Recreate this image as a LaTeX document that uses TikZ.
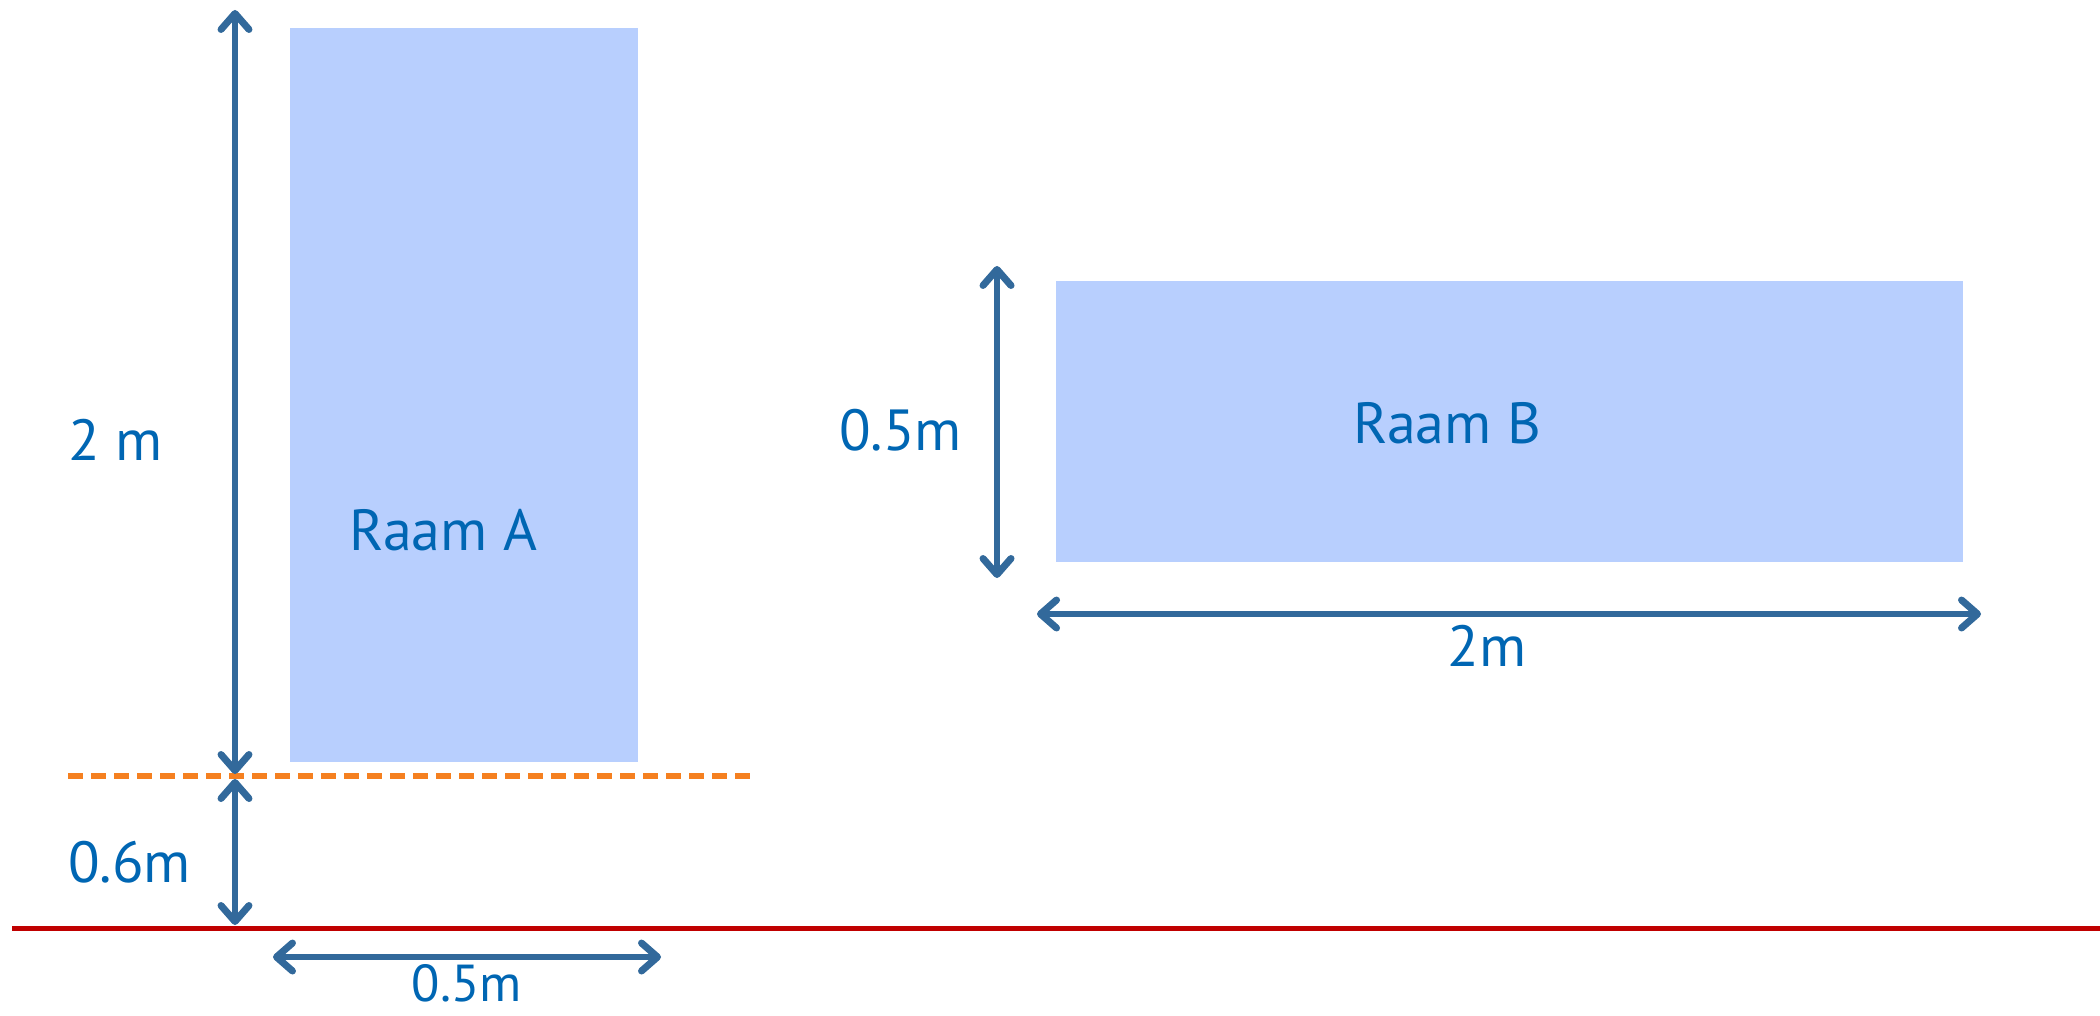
\documentclass[tikz,border=0pt]{standalone}
\usepackage{fontspec}
\setmainfont{PT Sans}
\usetikzlibrary{arrows.meta}
\definecolor{boxfill}{RGB}{184,207,254}
\definecolor{dimblue}{RGB}{50,105,155}
\definecolor{txtblue}{RGB}{0,102,179}
\definecolor{dashorange}{RGB}{245,128,32}
\definecolor{groundred}{RGB}{192,0,0}
\tikzset{
  barb/.tip={Straight Barb[length=16pt,width=28pt,line width=7pt,line cap=round,line join=round]},
  room/.style={draw=none,fill=boxfill,inner sep=0pt,anchor=north west},
  dim/.style={draw=dimblue,line width=6pt,line cap=round,barb-barb},
  lbl/.style={text=txtblue,font=\fontsize{58}{60}\selectfont,inner sep=0pt},
}
\begin{document}
\begin{tikzpicture}[x=1pt,y=-1pt]
\useasboundingbox[fill=white] (0,0) rectangle (2100,1016);
% rooms
\node[room,minimum width=348pt,minimum height=734pt] (A) at (290,28) {};
\node[room,minimum width=907pt,minimum height=281pt] (B) at (1056,281) {};
\node[lbl] (tA) at (443,530) {Raam A};
\node[lbl] (tB) at (1447,423) {Raam B};
% reference lines
\coordinate (d1) at (68,776);
\coordinate (d2) at (755,776);
\draw[dashorange,line width=6pt,dash pattern=on 15pt off 8pt] (d1) -- (d2);
\coordinate (g1) at (12,928);
\coordinate (g2) at (2100,928);
\draw[groundred,line width=5pt] (g1) -- (g2);
% dimension coordinates
\coordinate (a1) at (235,10);
\coordinate (a2) at (235,774);
\coordinate (b1) at (235,779);
\coordinate (b2) at (235,925);
\coordinate (c1) at (273,957);
\coordinate (c2) at (661,957);
\coordinate (e1) at (997,266);
\coordinate (e2) at (997,578);
\coordinate (f1) at (1037,614);
\coordinate (f2) at (1981,614);
\draw[dim] (a1) -- (a2);
\draw[dim] (b1) -- (b2);
\draw[dim] (c1) -- (c2);
\draw[dim] (e1) -- (e2);
\draw[dim] (f1) -- (f2);
% labels
\node[lbl,anchor=west] (l2m) at (68,440) {2 m};
\node[lbl,anchor=west] (l06) at (68,862) {0.6m};
\node[lbl,font=\fontsize{52}{54}\selectfont,anchor=base,text depth=0pt] (l05a) at (467,1001) {0.5m};
\node[lbl,anchor=east] (l05b) at (962,430) {0.5m};
\node[lbl] (l2mb) at (1487,646) {2m};
\end{tikzpicture}
\end{document}
